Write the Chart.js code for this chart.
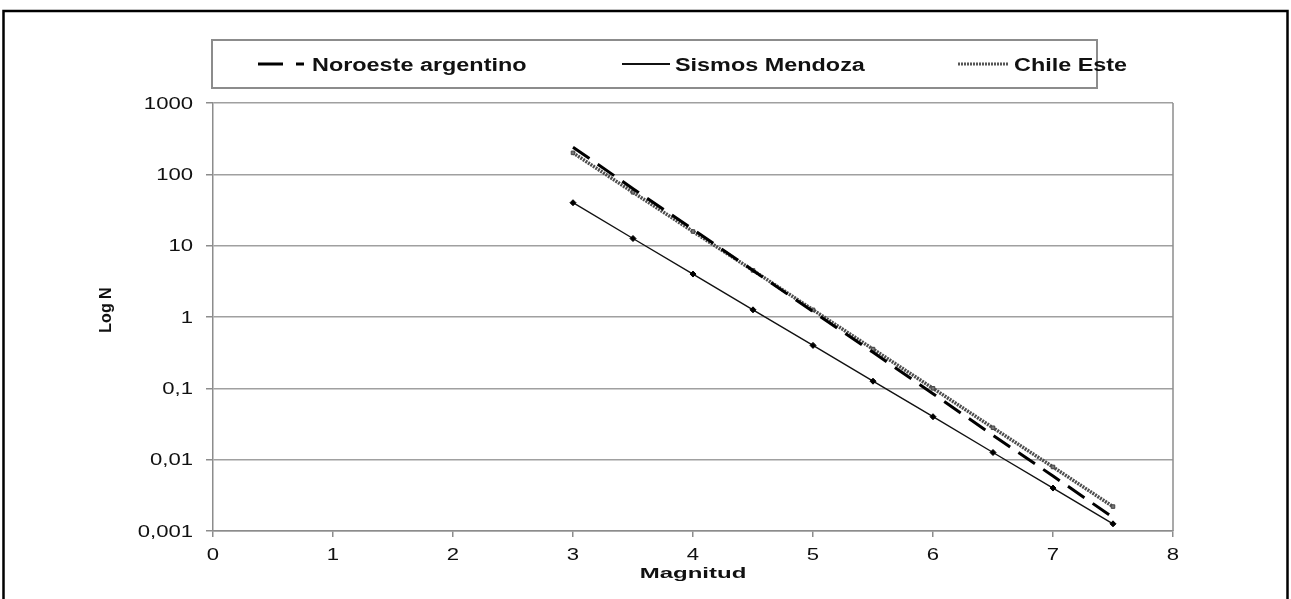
<!DOCTYPE html>
<html>
<head>
<meta charset="utf-8">
<script src="https://cdn.jsdelivr.net/npm/chart.js@4.4.1/dist/chart.umd.min.js"></script>
<style>
  html, body { margin: 0; padding: 0; background: #fff; }
  canvas { display: block; }
</style>
</head>
<body>
<canvas id="grChart" width="1291" height="599"></canvas>
<script>
// Data
const magnitudes = [3, 3.5, 4, 4.5, 5, 5.5, 6, 6.5, 7, 7.5];
const noroeste = [240, 63, 16.9, 4.5, 1.19, 0.32, 0.084, 0.022, 0.0059, 0.00155];
const mendoza = [40, 12.6, 4, 1.26, 0.4, 0.126, 0.04, 0.0126, 0.004, 0.00126];
const chileEste = [200, 56, 15.8, 4.5, 1.26, 0.355, 0.1, 0.028, 0.0079, 0.0022];

const yTickValues = [0.001, 0.01, 0.1, 1, 10, 100, 1000];
const yTickLabels = ['0,001', '0,01', '0,1', '1', '10', '100', '1000'];
const xTickValues = [0, 1, 2, 3, 4, 5, 6, 7, 8];
const xTickLabels = ['0', '1', '2', '3', '4', '5', '6', '7', '8'];

const seriesNames = ['Noroeste argentino', 'Sismos Mendoza', 'Chile Este'];

const FONT = '"Liberation Sans", Arial, sans-serif';
const SX = 1.3; // text in the original is stretched horizontally

function toPoints(values) {
    return magnitudes.map((m, i) => ({ x: m, y: values[i] }));
}

// draws horizontally stretched text
function wideText(ctx, text, x, y, font, align, baseline, sx) {
    ctx.save();
    ctx.translate(x, y);
    ctx.scale(sx, 1);
    ctx.font = font;
    ctx.textAlign = align;
    ctx.textBaseline = baseline;
    ctx.fillStyle = '#111';
    ctx.fillText(text, 0, 0);
    ctx.restore();
}

function legendLine(ctx, x1, x2, y, color, width, dash) {
    ctx.save();
    ctx.strokeStyle = color;
    ctx.lineWidth = width;
    ctx.setLineDash(dash);
    ctx.beginPath();
    ctx.moveTo(x1, y);
    ctx.lineTo(x2, y);
    ctx.stroke();
    ctx.restore();
}

const decorPlugin = {
    id: 'decor',
    beforeDraw(chart) {
        const ctx = chart.ctx;
        ctx.save();
        ctx.fillStyle = '#fff';
        ctx.fillRect(0, 0, chart.width, chart.height);
        // outer frame
        ctx.strokeStyle = '#000';
        ctx.lineWidth = 2.5;
        ctx.strokeRect(3.5, 11, 1284, 640);
        ctx.restore();
    },
    afterDraw(chart) {
        const ctx = chart.ctx;
        const xs = chart.scales.x;
        const ys = chart.scales.y;
        const area = chart.chartArea;

        // plot area right border
        ctx.save();
        ctx.strokeStyle = '#8c8c8c';
        ctx.lineWidth = 1.5;
        ctx.beginPath();
        ctx.moveTo(area.right, area.top);
        ctx.lineTo(area.right, area.bottom);
        ctx.stroke();
        ctx.restore();

        // tick labels
        const tickFont = '17px ' + FONT;
        yTickValues.forEach((v, i) => {
            wideText(ctx, yTickLabels[i], 193, ys.getPixelForValue(v) + 1, tickFont, 'right', 'middle', SX);
        });
        xTickValues.forEach((v, i) => {
            wideText(ctx, xTickLabels[i], xs.getPixelForValue(v), 555, tickFont, 'center', 'middle', SX);
        });

        // axis titles
        wideText(ctx, 'Magnitud', (area.left + area.right) / 2, 574, 'bold 15px ' + FONT, 'center', 'middle', 1.6);
        ctx.save();
        ctx.translate(107, 310);
        ctx.rotate(-Math.PI / 2);
        ctx.font = 'bold 16px ' + FONT;
        ctx.textAlign = 'center';
        ctx.textBaseline = 'middle';
        ctx.fillStyle = '#111';
        ctx.fillText('Log N', 0, 0);
        ctx.restore();

        // legend box
        ctx.save();
        ctx.strokeStyle = '#8c8c8c';
        ctx.lineWidth = 2;
        ctx.strokeRect(212, 40, 885, 48);
        ctx.restore();

        const legFont = 'bold 18px ' + FONT;
        legendLine(ctx, 258, 304, 64, '#000', 3, [25, 13]);
        wideText(ctx, seriesNames[0], 312, 71, legFont, 'left', 'alphabetic', SX);
        legendLine(ctx, 622, 670, 64, '#111', 1.8, []);
        wideText(ctx, seriesNames[1], 675, 71, legFont, 'left', 'alphabetic', SX);
        legendLine(ctx, 958, 1008, 64, '#555', 3, [2, 1]);
        wideText(ctx, seriesNames[2], 1014, 71, legFont, 'left', 'alphabetic', SX);
    }
};

new Chart(document.getElementById('grChart'), {
    type: 'scatter',
    data: {
        datasets: [
            {
                label: seriesNames[0],
                data: toPoints(noroeste),
                showLine: true,
                borderColor: '#000',
                borderWidth: 3,
                borderDash: [20, 10],
                pointRadius: 0
            },
            {
                label: seriesNames[1],
                data: toPoints(mendoza),
                showLine: true,
                borderColor: '#111',
                borderWidth: 1.4,
                pointStyle: 'rectRot',
                pointRadius: 3,
                pointBackgroundColor: '#000',
                pointBorderColor: '#000',
                pointBorderWidth: 1
            },
            {
                label: seriesNames[2],
                data: toPoints(chileEste),
                showLine: true,
                borderColor: '#4d4d4d',
                borderWidth: 3.5,
                borderDash: [2, 1],
                pointStyle: 'rect',
                pointRadius: 2.5,
                pointBackgroundColor: '#777',
                pointBorderColor: '#444',
                pointBorderWidth: 1
            }
        ]
    },
    options: {
        responsive: false,
        animation: false,
        layout: { padding: { left: 0, top: 103, right: 118, bottom: 0 } },
        scales: {
            x: {
                type: 'linear',
                min: 0,
                max: 8,
                afterFit: (scale) => { scale.height = 68; },
                afterBuildTicks: (scale) => { scale.ticks = xTickValues.map(v => ({ value: v })); },
                grid: { drawOnChartArea: false, drawTicks: true, tickLength: 6, color: '#8c8c8c', lineWidth: 1.5 },
                border: { color: '#8c8c8c', width: 1.5 },
                ticks: { display: false }
            },
            y: {
                type: 'logarithmic',
                min: 0.001,
                max: 1000,
                afterFit: (scale) => { scale.width = 213; },
                afterBuildTicks: (scale) => { scale.ticks = yTickValues.map(v => ({ value: v })); },
                grid: { color: '#a0a0a0', lineWidth: 1.5, drawTicks: true, tickLength: 7, tickColor: '#8c8c8c' },
                border: { color: '#8c8c8c', width: 1.5 },
                ticks: { display: false }
            }
        },
        plugins: {
            legend: { display: false },
            tooltip: { enabled: false }
        }
    },
    plugins: [decorPlugin]
});
</script>
</body>
</html>
